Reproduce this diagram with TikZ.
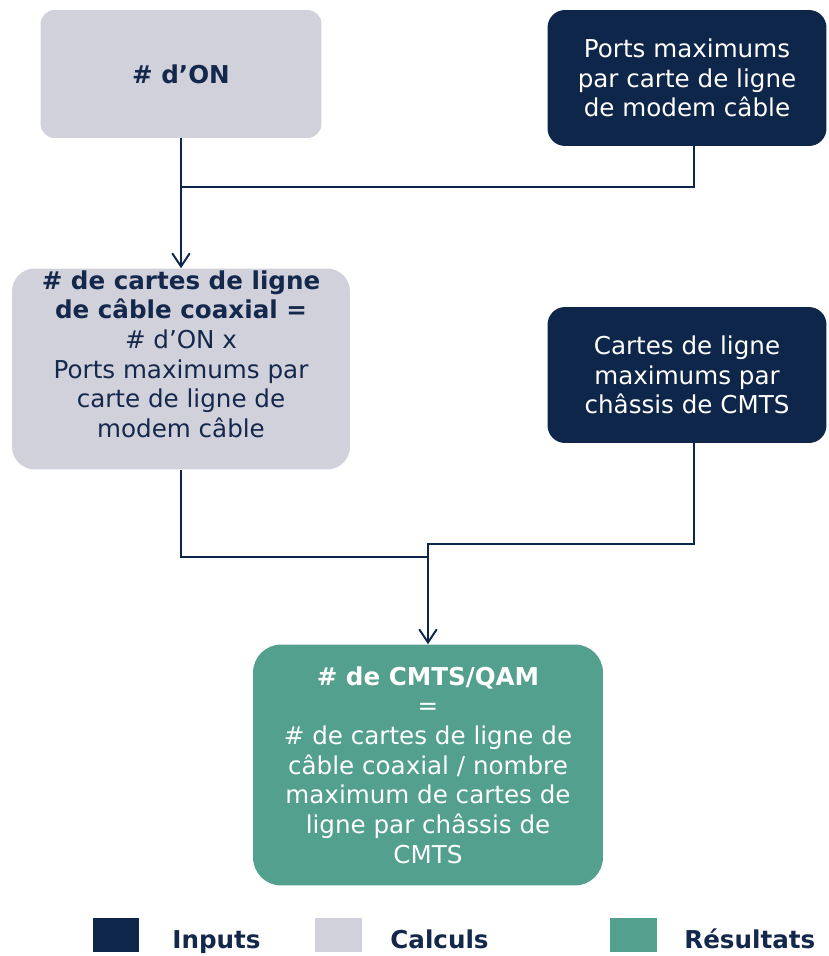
\documentclass[tikz,border=0pt]{standalone}
\usepackage{fontspec}
\setmainfont{DejaVu Sans}
\usetikzlibrary{arrows.meta}

\definecolor{navy}{HTML}{0E2649}
\definecolor{calcgray}{HTML}{D1D1DC}
\definecolor{resgreen}{HTML}{52A08D}
\definecolor{inktext}{HTML}{14284B}

\tikzset{
	box/.style={shape=rectangle, rounded corners=10pt, align=center, inner sep=0pt,
		font=\fontsize{14}{16.9}\selectfont},
	inbox/.style={box, fill=navy, text=white},
	calcbox/.style={box, fill=calcgray, text=inktext},
	resbox/.style={box, fill=resgreen, text=white},
	link/.style={draw=navy, line width=1.1pt},
	tip/.style={-{Straight Barb[length=7.5pt, width=10pt, line width=1.1pt]}},
	key/.style={shape=rectangle, minimum width=0.94cm, minimum height=0.68cm, inner sep=0pt},
	keytext/.style={anchor=base west, text=inktext, inner sep=0pt, font=\fontsize{14}{16.7}\selectfont\bfseries}
}

\begin{document}
\begin{tikzpicture}[x=0.02cm, y=-0.02cm]
	\useasboundingbox (0,0) rectangle (828,956);

	\node[calcbox, rounded corners=8pt, minimum width=5.62cm, minimum height=2.56cm] (on) at (181,74) {\textbf{\# d’ON}};
	\node[inbox, minimum width=5.58cm, minimum height=2.72cm] (portsmax) at (687,78)
		{Ports maximums\\par carte de ligne\\de modem câble};
	\node[calcbox, rounded corners=13pt, minimum width=6.76cm, minimum height=4.02cm, text depth=17pt] (cartes) at (181,369)
		{\textbf{\# de cartes de ligne}\\\textbf{de câble coaxial =}\\\# d’ON x\\Ports maximums par\\carte de ligne de\\modem câble};
	\node[inbox, minimum width=5.58cm, minimum height=2.72cm] (cartesmax) at (687,375)
		{Cartes de ligne\\maximums par\\châssis de CMTS};
	\node[resbox, rounded corners=16pt, minimum width=7.0cm, minimum height=4.82cm] (cmts) at (428,765)
		{\textbf{\# de CMTS/QAM}\\=\\\# de cartes de ligne de\\câble coaxial / nombre\\maximum de cartes de\\ligne par châssis de\\CMTS};

	\coordinate (j1) at (181,187);
	\coordinate (j2) at (428,557);
	\coordinate (j3) at (428,544);

	\path [link, tip] (on) edge (cartes);
	\draw [link] ([xshift=0.14cm]portsmax.south) |- (j1);
	\draw [link] (cartes.south) |- (j2);
	\draw [link, tip] ([xshift=0.14cm]cartesmax.south) |- (j3) -- (cmts.north);

	% legend
	\node[key, fill=navy] (keyin) at (116,935) {};
	\node[key, fill=calcgray] (keycalc) at (338,935) {};
	\node[key, fill=resgreen] (keyres) at (633,935) {};
	\node[keytext] (labin) at (172,948) {Inputs};
	\node[keytext] (labcalc) at (390,948) {Calculs};
	\node[keytext] (labres) at (684,948) {Résultats};
\end{tikzpicture}
\end{document}
